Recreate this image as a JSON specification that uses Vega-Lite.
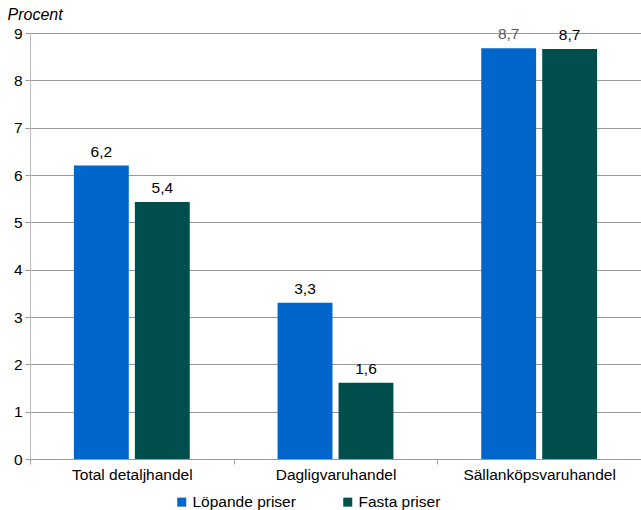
{
  "$schema": "https://vega.github.io/schema/vega-lite/v6.json",
  "width": 611,
  "height": 426,
  "autosize": {"type": "none"},
  "padding": {"left": 30, "top": 33, "right": 0, "bottom": 51},
  "background": "white",
  "config": {
    "font": "Liberation Sans",
    "view": {"stroke": null},
    "locale": {"number": {"decimal": ",", "thousands": " ", "grouping": [3], "currency": ["", " kr"]}}
  },
  "data": {
    "values": [
      {"kategori": "Total detaljhandel", "serie": "Löpande priser", "v": 6.2},
      {"kategori": "Total detaljhandel", "serie": "Fasta priser", "v": 5.43},
      {"kategori": "Dagligvaruhandel", "serie": "Löpande priser", "v": 3.3},
      {"kategori": "Dagligvaruhandel", "serie": "Fasta priser", "v": 1.61},
      {"kategori": "Sällanköpsvaruhandel", "serie": "Löpande priser", "v": 8.68},
      {"kategori": "Sällanköpsvaruhandel", "serie": "Fasta priser", "v": 8.66}
    ]
  },
  "encoding": {
    "x": {
      "field": "kategori", "type": "nominal", "sort": null,
      "scale": {"paddingInner": 0, "paddingOuter": 0},
      "axis": {
        "title": null, "labelAngle": 0, "labelFontSize": 15.5, "labelColor": "#000000",
        "domainColor": "#999999", "tickColor": "#999999", "tickBand": "extent",
        "tickSize": 5, "labelPadding": 3
      }
    },
    "xOffset": {
      "field": "serie", "type": "nominal", "sort": ["Löpande priser", "Fasta priser"],
      "scale": {"paddingInner": 0.1, "paddingOuter": 0.72}
    },
    "y": {
      "field": "v", "type": "quantitative",
      "scale": {"domain": [0, 9], "nice": false},
      "axis": {
        "title": "Procent", "titleAngle": 0, "titleAlign": "left", "titleBaseline": "alphabetic",
        "titleX": -23, "titleY": -14, "titleFontStyle": "italic", "titleFontWeight": "normal",
        "titleFontSize": 16, "titleColor": "#000000",
        "values": [0,1,2,3,4,5,6,7,8,9], "labelFontSize": 15.5, "labelColor": "#000000",
        "domainColor": "#bbbbbb", "tickColor": "#999999", "tickSize": 5, "labelPadding": 3,
        "gridColor": "#999999", "gridWidth": 1
      }
    }
  },
  "layer": [
    {
      "mark": {"type": "bar"},
      "encoding": {
        "color": {
          "field": "serie", "type": "nominal", "sort": ["Löpande priser", "Fasta priser"],
          "scale": {"domain": ["Löpande priser", "Fasta priser"], "range": ["#0066CC", "#004F4C"]},
          "legend": {
            "title": null, "orient": "none", "direction": "horizontal",
            "legendX": 144, "legendY": 461, "symbolType": "square", "symbolSize": 81,
            "symbolStrokeWidth": 0, "labelFontSize": 15.5, "labelColor": "#000000",
            "labelOffset": 3, "columnPadding": 44
          }
        }
      }
    },
    {
      "mark": {"type": "text", "baseline": "bottom", "dy": -6, "fontSize": 15.5},
      "encoding": {
        "text": {"field": "v", "type": "quantitative", "format": ".1f", "formatType": "number"},
        "color": {
          "condition": {"test": "datum.kategori === 'Sällanköpsvaruhandel' && datum.serie === 'Löpande priser'", "value": "#595959"},
          "value": "#000000"
        }
      }
    }
  ]
}
